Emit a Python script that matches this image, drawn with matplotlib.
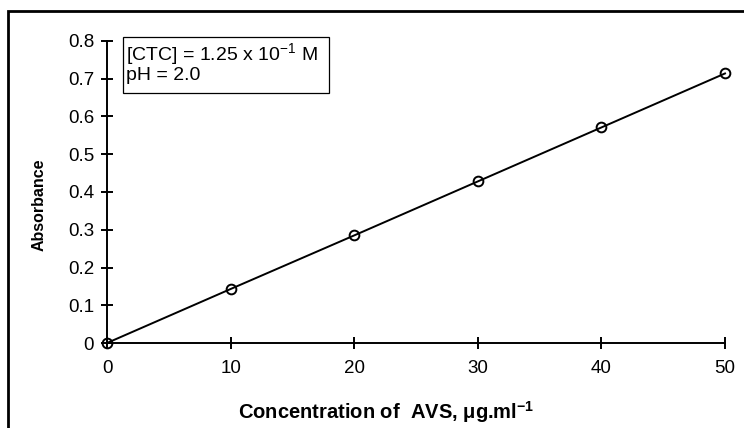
import matplotlib
matplotlib.use("Agg")
import matplotlib.pyplot as plt
from matplotlib.patches import Rectangle

plt.rcParams['font.family'] = ['Liberation Sans', 'DejaVu Sans']
plt.rcParams['mathtext.fontset'] = 'custom'
plt.rcParams['mathtext.rm'] = 'Liberation Sans'
plt.rcParams['mathtext.bf'] = 'Liberation Sans:bold'

# calibration data
conc = [0, 10, 20, 30, 40, 50]
absorbance = [0.0, 0.143, 0.285, 0.428, 0.571, 0.714]
x_ticks = [0, 10, 20, 30, 40, 50]
y_ticks = [0, 0.1, 0.2, 0.3, 0.4, 0.5, 0.6, 0.7, 0.8]
y_tick_labels = ["0", "0.1", "0.2", "0.3", "0.4", "0.5", "0.6", "0.7", "0.8"]

fig = plt.figure(figsize=(7.44, 4.28), dpi=100)
ax = fig.add_axes([107 / 744, 85 / 428, 618 / 744, 302 / 428])

ax.plot(conc, absorbance, color="black", linewidth=1.4, marker="o",
        markersize=7, markerfacecolor="none", markeredgewidth=1.4,
        clip_on=False, zorder=3)

ax.set_xlim(0, 50)
ax.set_ylim(0, 0.8)
ax.set_xticks(x_ticks)
ax.set_yticks(y_ticks)
ax.set_yticklabels(y_tick_labels)

for side in ["top", "right"]:
    ax.spines[side].set_visible(False)
for side in ["left", "bottom"]:
    ax.spines[side].set_linewidth(1.4)

ax.tick_params(direction="inout", length=8.5, width=1.4, labelsize=13.5,
               pad=5)
ax.tick_params(axis="x", pad=8)

ax.set_xlabel("Concentration of  AVS, \u03bcg.ml$^{\\mathbf{-1}}$",
              fontsize=14.5, fontweight="bold")
ax.xaxis.set_label_coords(0.451, -0.187)
ax.set_ylabel("Absorbance", fontsize=11.5, fontweight="bold")
ax.yaxis.set_label_coords(-0.098, 0.457)

# conditions box
ax.add_patch(Rectangle((0.026, 0.828), 0.333, 0.185, transform=ax.transAxes,
                       facecolor="white", edgecolor="black", linewidth=0.9,
                       clip_on=False, zorder=4))
ax.text(0.031, 0.934, "[CTC] = 1.25 x 10$^{-1}$ M", transform=ax.transAxes,
        fontsize=14, va="baseline", ha="left", zorder=5)
ax.text(0.031, 0.871, "pH = 2.0", transform=ax.transAxes,
        fontsize=14, va="baseline", ha="left", zorder=5)

# outer frame (only left and top edges fall inside the image)
fig.patches.append(Rectangle((8 / 744, -0.1), 1.2, (428 - 11) / 428 + 0.1,
                             transform=fig.transFigure, fill=False,
                             edgecolor="black", linewidth=2))

fig.savefig("out.png", dpi=100)
